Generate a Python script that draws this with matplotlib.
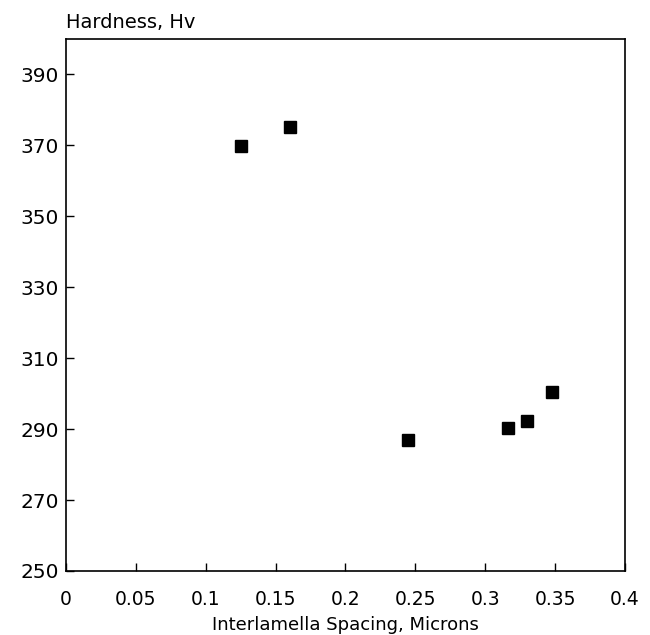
import numpy as np
import matplotlib
matplotlib.use("Agg")
from matplotlib import pyplot as plt

# values
spacing = [0.125, 0.160, 0.245, 0.316, 0.330, 0.348]
hardness = [369.7, 375.2, 287.0, 290.3, 292.3, 300.4]
xticks = [0, 0.05, 0.1, 0.15, 0.2, 0.25, 0.3, 0.35, 0.4]
xtick_labels = ["0", "0.05", "0.1", "0.15", "0.2", "0.25", "0.3", "0.35", "0.4"]
yticks = [250, 270, 290, 310, 330, 350, 370, 390]

plt.rcParams['font.family'] = ['DejaVu Sans']

fig = plt.figure(figsize=(6.5, 6.35), dpi=100)
ax = fig.add_axes([0.1015, 0.1008, 0.860, 0.838])

ax.plot(spacing, hardness, linestyle="none", marker="s", markersize=8.5,
        color="black")

ax.set_xlim(0, 0.4)
ax.set_ylim(250, 400)
ax.set_xticks(xticks)
ax.set_xticklabels(xtick_labels)
ax.set_yticks(yticks)
ax.tick_params(direction="in", length=6, width=1)
ax.tick_params(axis="x", pad=14, labelsize=13.5)
ax.tick_params(axis="y", pad=5, labelsize=14.5)
for s in ax.spines.values():
    s.set_linewidth(1.2)

ax.set_xlabel("Interlamella Spacing, Microns", fontsize=13, labelpad=5)
ax.text(0.0, 1.021, "Hardness, Hv", transform=ax.transAxes, fontsize=14,
        ha="left", va="baseline")

fig.savefig("out.png", dpi=100)
